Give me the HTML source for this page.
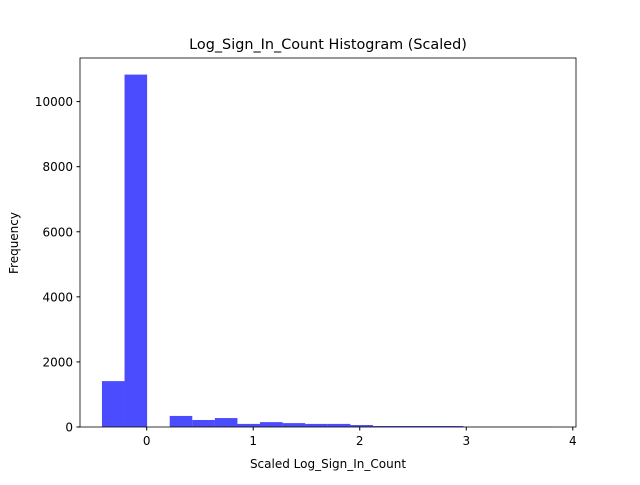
<!DOCTYPE html>
<html><head><meta charset="utf-8"><style>
body{margin:0;background:#fff;font-family:"Liberation Sans","DejaVu Sans",sans-serif;}
</style></head><body>
<svg width="640" height="480" font-family="DejaVu Sans, Liberation Sans, sans-serif">
<text x="328" y="49" text-anchor="middle" font-size="14.4">Log_Sign_In_Count Histogram (Scaled)</text>
<g id="bars"></g>
<g id="axes"></g>
<text x="328" y="468" text-anchor="middle" font-size="12">Scaled Log_Sign_In_Count</text>
<text transform="translate(18,243) rotate(-90)" text-anchor="middle" font-size="12">Frequency</text>
</svg>
<script>
const binStart = -0.42;
const binWidth = 0.212;
const counts = [1410,10830,0,340,215,275,95,150,120,95,95,60,30,30,30,30,5,5,5,5];
const xTicks = [0,1,2,3,4];
const yTicks = [0,2000,4000,6000,8000,10000];
const L=80,R=576,T=58,B=427;
const xmin=-0.626,xmax=4.03,ymax=11340;
const X=v=>L+(v-xmin)/(xmax-xmin)*(R-L);
const Y=v=>B-v/ymax*(B-T);
const ns="http://www.w3.org/2000/svg";
const bars=document.getElementById('bars'),axes=document.getElementById('axes');
counts.forEach((c,i)=>{
 const r=document.createElementNS(ns,'rect');
 const x0=X(binStart+i*binWidth),x1=X(binStart+(i+1)*binWidth);
 r.setAttribute('x',x0);r.setAttribute('width',x1-x0);
 r.setAttribute('y',Y(c));r.setAttribute('height',B-Y(c));
 r.setAttribute('fill','rgba(0,0,255,0.7)');
 
 
 bars.appendChild(r);
});
const fr=document.createElementNS(ns,'rect');
fr.setAttribute('x',L);fr.setAttribute('y',T);fr.setAttribute('width',R-L);fr.setAttribute('height',B-T);
fr.setAttribute('fill','none');fr.setAttribute('stroke','#000');fr.setAttribute('stroke-width','0.8');


axes.appendChild(fr);
xTicks.forEach(t=>{
 const x=X(t);
 const l=document.createElementNS(ns,'line');
 l.setAttribute('x1',x);l.setAttribute('x2',x);l.setAttribute('y1',B);l.setAttribute('y2',B+3.5);l.setAttribute('stroke','#000');
 
 
 axes.appendChild(l);
 const tx=document.createElementNS(ns,'text');
 tx.setAttribute('x',x);tx.setAttribute('y',B+18);tx.setAttribute('text-anchor','middle');tx.setAttribute('font-size','12');
 tx.textContent=t;
 
 
 axes.appendChild(tx);
});
yTicks.forEach(t=>{
 const y=Y(t);
 const l=document.createElementNS(ns,'line');
 l.setAttribute('x1',L-3.5);l.setAttribute('x2',L);l.setAttribute('y1',y);l.setAttribute('y2',y);l.setAttribute('stroke','#000');
 
 
 axes.appendChild(l);
 const tx=document.createElementNS(ns,'text');
 tx.setAttribute('x',L-7);tx.setAttribute('y',y+4.5);tx.setAttribute('text-anchor','end');tx.setAttribute('font-size','12');
 tx.textContent=t;
 
 
 axes.appendChild(tx);
});
</script>
</body></html>
